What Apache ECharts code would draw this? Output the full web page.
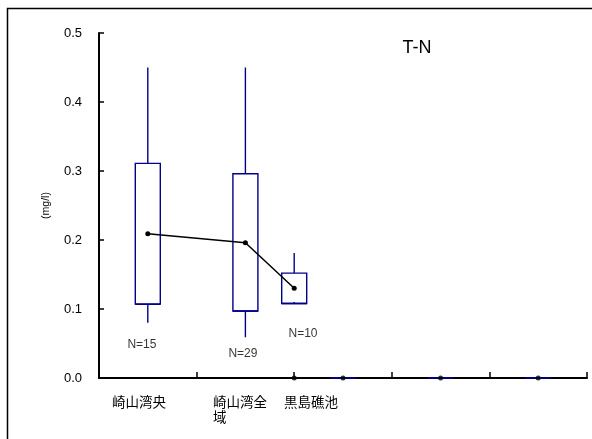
<!DOCTYPE html>
<html>
<head>
<meta charset="utf-8">
<script src="https://cdn.jsdelivr.net/npm/echarts@6/dist/echarts.min.js"></script>
<style>
  html, body { margin: 0; padding: 0; background: #fff; }
  #chart { width: 592px; height: 439px; }
</style>
</head>
<body>
<div id="chart"></div>
<script>
// Site names shown under the axis
const categories = ['崎山湾央', '崎山湾全\n域', '黒島礁池'];
// Where each site name starts along the x axis
const categoryLabelAt = [0.133, 1.168, 1.895];

// Box statistics per station (x position on the axis, then min / Q1 / Q3 / max)
const boxX = [0.5, 1.5, 2.0, 2.5, 3.5, 4.5];
const boxMin = [0.080, 0.059, 0.110, 0, 0, 0];
const boxQ1 = [0.107, 0.097, 0.108, 0, 0, 0];
const boxQ3 = [0.311, 0.296, 0.152, 0, 0, 0];
const boxMax = [0.450, 0.450, 0.181, 0, 0, 0];

// Mean values joined by a line
const meanX = [0.5, 1.5, 2.0];
const meanValues = [0.209, 0.196, 0.130];
// Stations with no data plotted as zero means
const zeroX = [2.0, 2.5, 3.5, 4.5];
const zeroValues = [0, 0, 0, 0];

// Sample counts and where their labels sit
const countLabels = ['N=15', 'N=29', 'N=10'];
const countLabelX = [0.44, 1.475, 2.09];
const countLabelY = [0.049, 0.035, 0.064];

const yTicks = [0, 0.1, 0.2, 0.3, 0.4, 0.5];
const xBoundaries = [0, 1, 2, 3, 4, 5];

const chart = echarts.init(document.getElementById('chart'), null, { renderer: 'canvas' });

const boxData = boxX.map((x, i) => [x, boxMin[i], boxQ1[i], boxQ3[i], boxMax[i]]);

chart.setOption({
  animation: false,
  backgroundColor: '#fff',
  title: {
    text: 'T-N',
    left: 412, top: 34,
    textAlign: 'center',
    textStyle: { fontFamily: 'Liberation Sans, Arial', fontSize: 18, fontWeight: 'normal', color: '#000' }
  },
  graphic: [{
    type: 'rect',
    shape: { x: 7.5, y: 8.5, width: 620, height: 460 },
    style: { fill: null, stroke: '#000', lineWidth: 1.5 },
    silent: true
  }],
  grid: { left: 99, right: 5, top: 33, bottom: 61, containLabel: false },
  xAxis: {
    type: 'value',
    min: 0, max: 5,
    axisLine: { show: true, onZero: false, lineStyle: { color: '#000', width: 2 } },
    axisTick: { show: true, inside: true, length: 6, customValues: xBoundaries, lineStyle: { color: '#000', width: 1.5 } },
    splitLine: { show: false },
    axisLabel: {
      customValues: categoryLabelAt,
      align: 'left',
      verticalAlign: 'top',
      margin: 16,
      lineHeight: 15,
      fontFamily: 'Noto Sans CJK JP',
      fontSize: 13.5,
      color: '#000',
      formatter: (v) => {
        const i = categoryLabelAt.findIndex(p => Math.abs(p - v) < 1e-6);
        return i >= 0 ? categories[i] : '';
      }
    }
  },
  yAxis: {
    type: 'value',
    min: 0, max: 0.5, interval: 0.1,
    name: '(mg/l)',
    nameLocation: 'middle',
    nameGap: 47,
    nameRotate: 90,
    nameTextStyle: { fontFamily: 'Liberation Sans, Arial', fontSize: 10.5, color: '#000' },
    axisLine: { show: true, lineStyle: { color: '#000', width: 2 } },
    axisTick: { show: true, inside: true, length: 5, lineStyle: { color: '#000', width: 1.5 } },
    splitLine: { show: false },
    axisLabel: {
      margin: 17,
      fontFamily: 'Liberation Sans, Arial',
      fontSize: 13,
      color: '#000',
      formatter: (v) => v.toFixed(1)
    }
  },
  series: [
    {
      type: 'custom',
      name: 'box',
      z: 10,
      clip: false,
      data: boxData,
      encode: { x: 0, y: [1, 2, 3, 4] },
      renderItem: (params, api) => {
        const x = api.value(0);
        const pMin = api.coord([x, api.value(1)]);
        const pQ1 = api.coord([x, api.value(2)]);
        const pQ3 = api.coord([x, api.value(3)]);
        const pMax = api.coord([x, api.value(4)]);
        const half = 12.5;
        const stroke = { stroke: '#00008B', lineWidth: 1.4, fill: null };
        const l = pQ3[0] - half, r = pQ3[0] + half;
        return {
          type: 'group',
          children: [
            { type: 'line', shape: { x1: pQ3[0], y1: pQ3[1], x2: pMax[0], y2: pMax[1] }, style: stroke },
            { type: 'line', shape: { x1: pMin[0], y1: pMin[1], x2: pQ1[0], y2: pQ1[1] }, style: stroke },
            { type: 'polygon',
              shape: { points: [[l, pQ3[1]], [r, pQ3[1]], [r, pQ1[1]], [l, pQ1[1]]] },
              style: stroke },
            { type: 'line', shape: { x1: l, y1: pQ1[1], x2: r, y2: pQ1[1] }, style: { stroke: '#00008B', lineWidth: 1.6 } }
          ]
        };
      }
    },
    {
      type: 'line',
      name: 'mean',
      z: 11,
      data: meanX.map((x, i) => [x, meanValues[i]]),
      symbol: 'circle',
      symbolSize: 5,
      lineStyle: { color: '#000', width: 1.5 },
      itemStyle: { color: '#000' }
    },
    {
      type: 'scatter',
      name: 'zero',
      z: 11,
      data: zeroX.map((x, i) => [x, zeroValues[i]]),
      symbol: 'circle',
      symbolSize: 5,
      itemStyle: { color: '#000' }
    },
    {
      type: 'scatter',
      name: 'count',
      symbolSize: 0,
      data: countLabelX.map((x, i) => [x, countLabelY[i]]),
      label: {
        show: true,
        position: 'inside',
        fontFamily: 'Liberation Sans, Arial',
        fontSize: 12,
        color: '#000',
        formatter: (p) => countLabels[p.dataIndex]
      }
    }
  ]
});
</script>
</body>
</html>
